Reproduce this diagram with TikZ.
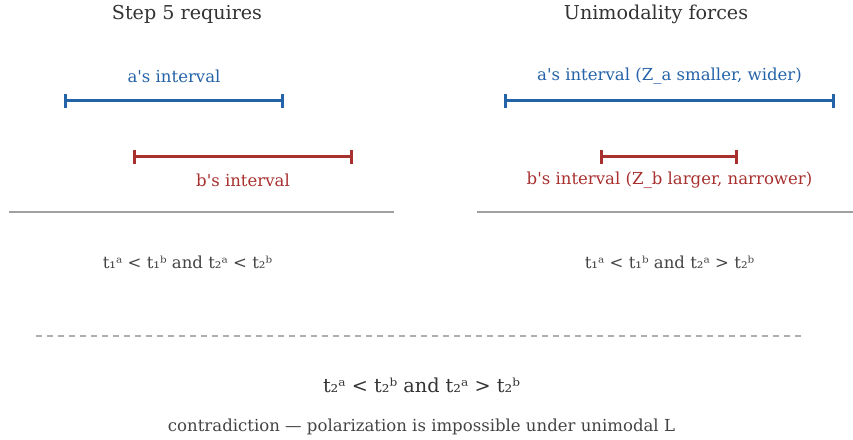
\documentclass[tikz,border=0pt]{standalone}
\usepackage{fontspec}
\setmainfont{DejaVu Serif}
\usetikzlibrary{arrows.meta}
\definecolor{ablue}{HTML}{2563A8}
\definecolor{bred}{HTML}{A8302F}
\definecolor{titlegray}{HTML}{333333}
\definecolor{textgray}{HTML}{444444}
\definecolor{rulegray}{HTML}{A0A0A0}
\newcommand{\apos}{\textquotesingle}
\tikzset{
  interval/.style={line width=3bp, {Bar[width=14bp,length=3bp]}-{Bar[width=14bp,length=3bp]}},
  atitle/.style={text=titlegray, font=\fontsize{19.2}{22}\selectfont, inner sep=0pt},
  lab/.style={font=\fontsize{16.6}{19}\selectfont, inner sep=0pt},
  cond/.style={text=textgray, font=\fontsize{16.6}{19}\selectfont, inner sep=0pt},
}
\begin{document}
\begin{tikzpicture}[x=1bp,y=-1bp]
\useasboundingbox (0,0) rectangle (853,440);
% titles
\node[atitle] (t1) at (187,14) {Step 5 requires};
\node[atitle] (t2) at (656,14) {Unimodality forces};
% left intervals
\coordinate (la1) at (64,101); \coordinate (la2) at (284,101);
\coordinate (lb1) at (133,157); \coordinate (lb2) at (353,157);
\draw[interval, ablue] (la1) -- (la2);
\draw[interval, bred] (lb1) -- (lb2);
\node[lab, text=ablue] (lal) at (174,76) {a\apos s interval};
\node[lab, text=bred] (lbl) at (243,180) {b\apos s interval};
% right intervals
\coordinate (ra1) at (504,101); \coordinate (ra2) at (835,101);
\coordinate (rb1) at (600,157); \coordinate (rb2) at (738,157);
\draw[interval, ablue] (ra1) -- (ra2);
\draw[interval, bred] (rb1) -- (rb2);
\node[lab, text=ablue] (ral) at (669.5,76) {a\apos s interval (Z\_a smaller, wider)};
\node[lab, text=bred] (rbl) at (669.5,180) {b\apos s interval (Z\_b larger, narrower)};
% separators
\coordinate (s1) at (9,212); \coordinate (s2) at (394,212);
\coordinate (s3) at (477,212); \coordinate (s4) at (853,212);
\draw[rulegray, line width=1.2bp] (s1) -- (s2);
\draw[rulegray, line width=1.2bp] (s3) -- (s4);
% conditions
\node[cond] (c1) at (187.5,262) {t₁ᵃ < t₁ᵇ and t₂ᵃ < t₂ᵇ};
\node[cond] (c2) at (669.5,262) {t₁ᵃ < t₁ᵇ and t₂ᵃ > t₂ᵇ};
% dashed
\coordinate (d1) at (36,336); \coordinate (d2) at (803,336);
\draw[rulegray!85, line width=1.3bp, dash pattern=on 5.5bp off 5.5bp] (d1) -- (d2);
% bottom
\node[text=titlegray, font=\fontsize{19.3}{22}\selectfont, inner sep=0pt] (eq) at (421.5,385) {t₂ᵃ < t₂ᵇ and t₂ᵃ > t₂ᵇ};
\node[cond] (con) at (421.5,427) {contradiction — polarization is impossible under unimodal L};
\end{tikzpicture}
\end{document}
